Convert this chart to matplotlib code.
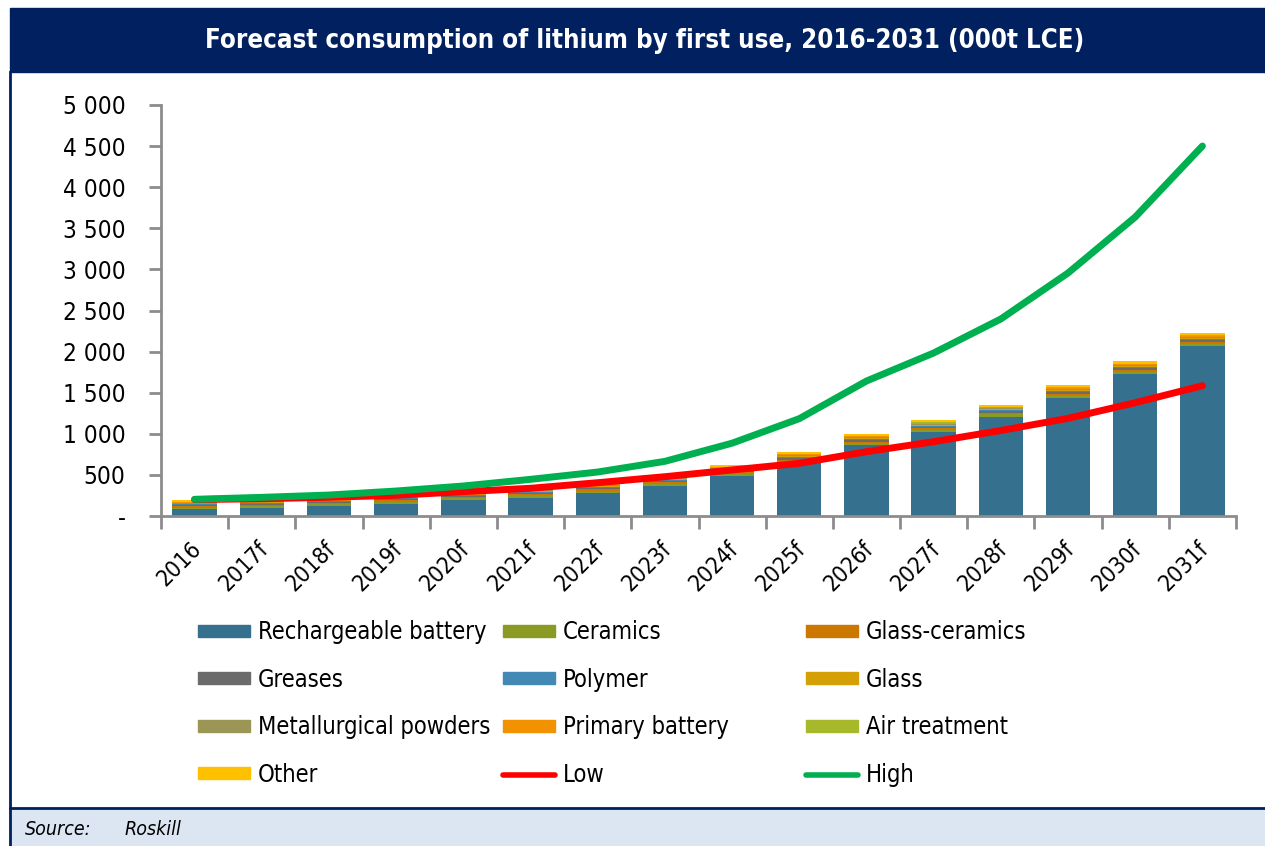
import matplotlib
matplotlib.use("Agg")
import matplotlib.pyplot as plt
import matplotlib.transforms as mtrans
from matplotlib.patches import Rectangle, Patch
from matplotlib.lines import Line2D
import numpy as np

plt.rcParams["font.family"] = "DejaVu Sans"
plt.rcParams["font.stretch"] = "condensed"

# data (000t LCE)
years = ["2016", "2017f", "2018f", "2019f", "2020f", "2021f", "2022f", "2023f",
         "2024f", "2025f", "2026f", "2027f", "2028f", "2029f", "2030f", "2031f"]
rechargeable = [80, 100, 120, 150, 190, 225, 283, 369, 490, 641, 860, 1018, 1208, 1439, 1724, 2064]
ceramics = [22, 23, 23, 24, 24, 25, 26, 26, 27, 28, 28, 29, 30, 31, 32, 33]
glass_ceramics = [14, 14, 15, 15, 16, 16, 17, 17, 17, 18, 18, 19, 19, 20, 20, 21]
greases = [14, 14, 15, 15, 15, 16, 16, 16, 17, 17, 17, 18, 18, 18, 19, 19]
polymer = [10, 10, 10, 11, 11, 11, 12, 12, 12, 12, 13, 13, 13, 13, 14, 14]
glass = [12, 12, 12, 13, 13, 13, 14, 14, 14, 14, 15, 15, 15, 16, 16, 16]
metallurgical = [10, 10, 11, 11, 11, 12, 12, 12, 12, 13, 13, 13, 13, 14, 14, 14]
primary = [6, 6, 6, 7, 7, 7, 7, 8, 8, 8, 8, 8, 9, 9, 9, 9]
air_treatment = [4, 4, 4, 4, 5, 5, 5, 5, 5, 5, 6, 6, 6, 6, 6, 6]
other = [18, 19, 20, 20, 21, 21, 22, 22, 22, 23, 24, 24, 25, 25, 26, 27]
low = [200, 210, 228, 252, 296, 337, 405, 478, 560, 641, 782, 904, 1040, 1188, 1378, 1585]
high = [203, 227, 255, 304, 365, 446, 535, 665, 886, 1184, 1642, 1983, 2397, 2956, 3637, 4501]

series = [
    ("Rechargeable battery", rechargeable, "#36708F"),
    ("Ceramics", ceramics, "#8A9A22"),
    ("Glass-ceramics", glass_ceramics, "#CC7700"),
    ("Greases", greases, "#6B6B6B"),
    ("Polymer", polymer, "#4389B5"),
    ("Glass", glass, "#D4A005"),
    ("Metallurgical powders", metallurgical, "#9C9656"),
    ("Primary battery", primary, "#F39200"),
    ("Air treatment", air_treatment, "#A8B82B"),
    ("Other", other, "#FFC000"),
]

W, H = 1265, 846
fig = plt.figure(figsize=(W / 100, H / 100), dpi=100)
ax = fig.add_axes([161 / W, 330 / H, 1075 / W, 411 / H])

x = np.arange(len(years))
bottom = np.zeros(len(years))
for name, vals, col in series:
    ax.bar(x, vals, 0.66, bottom=bottom, color=col, zorder=2)
    bottom += np.array(vals)

ax.plot(x, low, color="#FF0000", lw=5, solid_capstyle="round", zorder=3)
ax.plot(x, high, color="#00B050", lw=5, solid_capstyle="round", zorder=4)

ax.set_xlim(-0.5, len(years) - 0.5)
ax.set_ylim(0, 5000)
yt = np.arange(0, 5001, 500)
ax.set_yticks(yt)
ax.set_yticklabels(["-"] + [f"{v:,}".replace(",", " ") for v in yt[1:]], fontsize=17.5)
ax.tick_params(axis="y", length=9, width=2, color="#8C8C8C", pad=16.5)

ax.set_xticks(x)
ax.set_xticklabels(years, fontsize=16.5, rotation=45, ha="right", va="top",
                   rotation_mode="anchor")
ax.tick_params(axis="x", which="major", length=0, pad=15)
ax.set_xticks(np.arange(-0.5, len(years), 1), minor=True)
ax.tick_params(axis="x", which="minor", length=9, width=2, color="#8C8C8C")
shift = mtrans.ScaledTranslation(-5 / 100, 0, fig.dpi_scale_trans)
for lab in ax.get_xticklabels():
    lab.set_transform(lab.get_transform() + shift)

for s in ["top", "right"]:
    ax.spines[s].set_visible(False)
for s in ["left", "bottom"]:
    ax.spines[s].set_color("#8C8C8C")
    ax.spines[s].set_linewidth(2)

# title banner, border and footer
fig.patches.append(Rectangle((10 / W, (H - 72) / H), 1 - 10 / W, 64 / H,
                             transform=fig.transFigure, color="#002060", zorder=0))
fig.text(645 / W, (H - 41) / H, "Forecast consumption of lithium by first use, 2016-2031 (000t LCE)",
         color="white", fontsize=18.5, fontweight="bold", ha="center", va="center")
fig.patches.append(Rectangle((10 / W, 0), 1 - 10 / W, 38 / H,
                             transform=fig.transFigure, color="#DCE6F2", zorder=0))
fig.lines.append(Line2D([10 / W, 1], [38 / H, 38 / H], transform=fig.transFigure,
                        color="#002060", lw=2))
fig.lines.append(Line2D([10 / W, 10 / W], [0, (H - 72) / H], transform=fig.transFigure,
                        color="#002060", lw=2))
fig.text(25 / W, 17 / H, "Source:", fontsize=14, style="italic", va="center")
fig.text(125 / W, 17 / H, "Roskill", fontsize=14, style="italic", va="center")

# legend: three columns placed like the original
handles = [Patch(color=c, label=n) for n, v, c in series]
handles.append(Line2D([], [], color="#FF0000", lw=4, label="Low", solid_capstyle="round"))
handles.append(Line2D([], [], color="#00B050", lw=4, label="High", solid_capstyle="round"))
col_x = [198, 503, 806]
for c in range(3):
    hs = handles[c::3]
    fig.legend(handles=hs, loc="upper left", bbox_to_anchor=(col_x[c] / W, (H - 620) / H),
               frameon=False, fontsize=17, handlelength=2.2, handleheight=0.4,
               handletextpad=0.34, labelspacing=1.0, borderpad=0, borderaxespad=0)

fig.savefig("out.png", dpi=100)
